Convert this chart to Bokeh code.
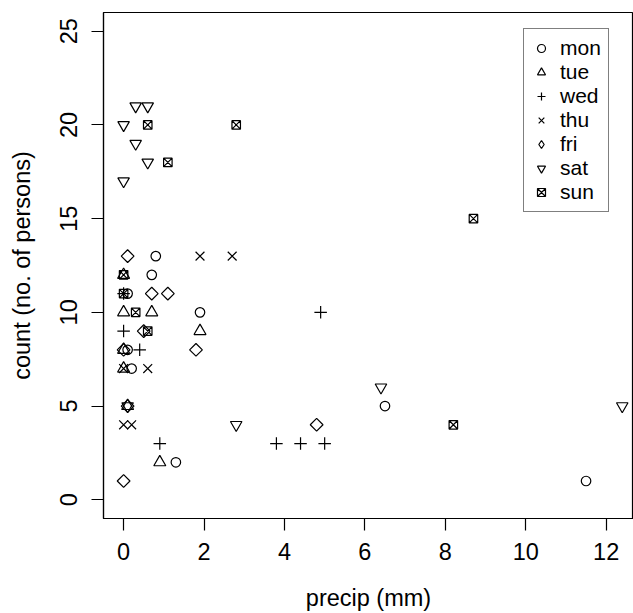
import math
from bokeh.plotting import figure
from bokeh.models import FixedTicker, Range1d
from bokeh.embed import file_html
from bokeh.resources import INLINE

# ---- data ----
days = ["mon", "tue", "wed", "thu", "fri", "sat", "sun"]

mon_x = [0.8, 0.7, 0.1, 1.9, 0.1, 0.2, 1.3, 6.5, 11.5]
mon_y = [13, 12, 11, 10, 8, 7, 2, 5, 1]
tue_x = [0.0, 0.0, 0.7, 1.9, 0.0, 0.0, 0.9, 0.1]
tue_y = [12, 10, 10, 9, 8, 7, 2, 5]
wed_x = [0.0, 0.0, 0.4, 0.9, 3.8, 4.4, 5.0, 4.9]
wed_y = [11, 9, 8, 3, 3, 3, 3, 10]
thu_x = [1.9, 2.7, 0.0, 0.6, 0.0, 0.2]
thu_y = [13, 13, 7, 7, 4, 4]
fri_x = [0.1, 0.7, 1.1, 0.5, 0.0, 1.8, 0.1, 4.8, 0.0]
fri_y = [13, 11, 11, 9, 8, 8, 5, 4, 1]
sat_x = [0.0, 0.3, 0.6, 0.3, 0.6, 0.0, 2.8, 6.4, 12.4, 0.1]
sat_y = [20, 21, 21, 19, 18, 17, 4, 6, 5, 5]
sun_x = [0.6, 2.8, 1.1, 8.7, 8.2, 0.0, 0.3, 0.6, 0.0]
sun_y = [20, 20, 18, 15, 4, 12, 10, 9, 11]

x_ticks = [0, 2, 4, 6, 8, 10, 12]
y_ticks = [0, 5, 10, 15, 20, 25]

series = {
    "mon": (mon_x, mon_y), "tue": (tue_x, tue_y), "wed": (wed_x, wed_y),
    "thu": (thu_x, thu_y), "fri": (fri_x, fri_y), "sat": (sat_x, sat_y),
    "sun": (sun_x, sun_y),
}

# ---- styles (R pch 1..7) ----
styles = {
    "mon": dict(marker="circle", size=9.5, angle=0),
    "tue": dict(marker="triangle", size=12, angle=0),
    "wed": dict(marker="cross", size=12.5, angle=0),
    "thu": dict(marker="x", size=12.5, angle=0),
    "fri": dict(marker="square", size=9, angle=math.pi / 4),
    "sat": dict(marker="inverted_triangle", size=11.5, angle=0),
    "sun": dict(marker="square_x", size=8.5, angle=0),
}

FONT = "Liberation Sans"
FS = "23.5px"

p = figure(width=633, height=613, output_backend="svg", toolbar_location=None,
           x_range=Range1d(-0.5, 12.68), y_range=Range1d(-1, 26),
           min_border_left=103, min_border_right=0, min_border_top=12,
           min_border_bottom=94,
           x_axis_label="precip (mm)", y_axis_label="count (no. of persons)")
p.grid.visible = False
p.outline_line_color = "black"
p.outline_line_width = 1.2
p.background_fill_color = "white"
p.border_fill_color = "white"

for ax in (p.xaxis[0], p.yaxis[0]):
    ax.major_tick_out = 12
    ax.major_tick_in = 0
    ax.minor_tick_line_color = None
    ax.major_tick_line_color = "black"
    ax.major_tick_line_width = 1.2
    ax.axis_line_color = "black"
    ax.axis_line_width = 1.2
    ax.major_label_text_font = FONT
    ax.major_label_text_font_size = FS
    ax.major_label_text_color = "black"
    ax.axis_label_text_font = FONT
    ax.axis_label_text_font_size = FS
    ax.axis_label_text_font_style = "normal"
    ax.axis_label_text_color = "black"

p.xaxis[0].ticker = FixedTicker(ticks=x_ticks)
p.yaxis[0].ticker = FixedTicker(ticks=y_ticks)
p.yaxis[0].major_label_orientation = "parallel"
p.xaxis[0].major_label_standoff = 12
p.xaxis[0].axis_label_standoff = 22
p.yaxis[0].major_label_standoff = 14
p.yaxis[0].axis_label_standoff = 23

NAN = float("nan")
for d in days:
    xs, ys = series[d]
    st = styles[d]
    if d == "fri":
        # rotated squares for the points; a diamond glyph (no visible point) for the legend
        p.scatter(xs, ys, marker=st["marker"], size=st["size"], angle=st["angle"],
                  line_color="black", fill_color=None, line_width=1.2)
        p.scatter([NAN], [NAN], marker="diamond", size=st["size"],
                  line_color="black", fill_color=None, line_width=1.2,
                  legend_label=d)
    else:
        p.scatter(xs, ys, marker=st["marker"], size=st["size"], angle=st["angle"],
                  line_color="black", fill_color=None, line_width=1.2,
                  legend_label=d)

lg = p.legend[0]
lg.location = (420, 306)
lg.padding = 7
lg.spacing = 0
lg.margin = 0
lg.glyph_width = 20
lg.glyph_height = 20
lg.label_height = 20
lg.label_standoff = 9
lg.label_text_font = FONT
lg.label_text_font_size = "21px"
lg.label_text_color = "black"
lg.border_line_color = "black"
lg.border_line_width = 1.2
lg.background_fill_color = "white"
lg.background_fill_alpha = 1.0

open("out.html", "w").write(file_html(p, INLINE))
